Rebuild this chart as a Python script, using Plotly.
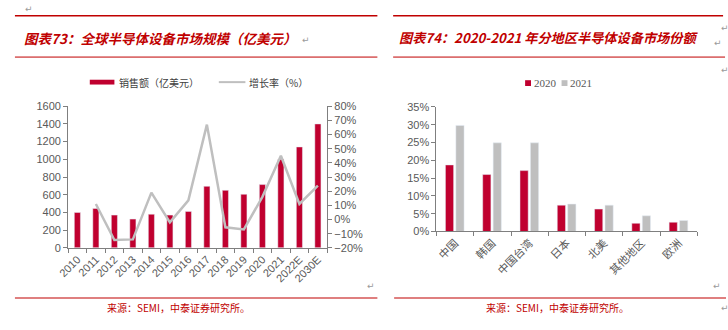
import plotly.graph_objects as go

# ---------------- data ----------------
years = ["2010", "2011", "2012", "2013", "2014", "2015", "2016", "2017",
         "2018", "2019", "2020", "2021", "2022E", "2030E"]
sales = [400, 445, 370, 325, 380, 370, 412, 695, 650, 605, 715, 1000, 1140, 1400]
growth = [None, 11, -14.5, -14, 19, -2, 13.5, 67, -5.5, -7, 16, 45, 11, 24]

regions = ["中国", "韩国", "中国台湾", "日本", "北美", "其他地区", "欧洲"]
share2020 = [18.7, 16.0, 17.1, 7.4, 6.3, 2.3, 2.6]
share2021 = [29.8, 24.9, 24.9, 7.7, 7.4, 4.4, 3.1]

W, H = 728, 330
RED = "#C0002F"
LINE_RED = "#C00000"
GRAY = "#BFBFBF"
AX = "#7F7F7F"
TXT = "#595959"
CJK = "Noto Sans CJK SC"
LAT = "Liberation Sans, Arial"

yr_pos = list(range(len(years)))
rg_pos = list(range(len(regions)))


def px(x):
    return x / W


def py(y):
    return 1 - y / H


fig = go.Figure()

fig.add_trace(go.Bar(x=yr_pos, y=sales, marker_color=RED, width=0.33,
                     xaxis="x", yaxis="y", showlegend=False, name="销售额（亿美元）"))
fig.add_trace(go.Scatter(x=yr_pos, y=growth, mode="lines", line=dict(color=GRAY, width=2.5),
                         xaxis="x", yaxis="y2", showlegend=False, name="增长率（%）"))
fig.add_trace(go.Bar(x=rg_pos, y=share2020, marker_color=RED, width=0.22, offset=-0.26,
                     xaxis="x2", yaxis="y3", showlegend=False, name="2020"))
fig.add_trace(go.Bar(x=rg_pos, y=share2021, marker_color=GRAY, width=0.22, offset=0.02,
                     xaxis="x2", yaxis="y3", showlegend=False, name="2021"))

tickfont = dict(family=LAT, size=11, color=TXT)
cjktick = dict(family=CJK, size=11, color=TXT)

common_x = dict(showgrid=False, zeroline=False, showline=True, linecolor=AX, linewidth=1,
                ticks="", tickangle=-45, type="linear", fixedrange=True,
                minor=dict(ticks="outside", ticklen=4, tickcolor=AX, tick0=0.5, dtick=1,
                           showgrid=False))
common_y = dict(showgrid=False, zeroline=False, showline=True, linecolor=AX, linewidth=1,
                ticks="outside", ticklen=4, tickcolor=AX, tickfont=tickfont, fixedrange=True)

fig.update_layout(
    width=W, height=H,
    margin=dict(l=0, r=0, t=0, b=0),
    paper_bgcolor="white", plot_bgcolor="white",
    barmode="overlay",
    xaxis=dict(common_x, domain=[px(58), px(321)], anchor="y", tickfont=tickfont,
               range=[-0.5, len(years) - 0.5], tickvals=yr_pos, ticktext=years),
    yaxis=dict(common_y, domain=[py(251), py(104)], anchor="x", range=[0, 1600], dtick=200),
    yaxis2=dict(common_y, overlaying="y", side="right", anchor="x", range=[-20, 80], dtick=10,
                ticksuffix="%"),
    xaxis2=dict(common_x, domain=[px(432), px(697)], anchor="y3", tickfont=cjktick,
                range=[-0.5, len(regions) - 0.5], tickvals=rg_pos, ticktext=regions),
    yaxis3=dict(common_y, domain=[py(234), py(104.7)], anchor="x2", range=[0, 35], dtick=5,
                ticksuffix="%"),
)

shapes = []
annots = []


def hline(x0, x1, y, w=1.3, color=LINE_RED):
    shapes.append(dict(type="line", xref="paper", yref="paper", x0=px(x0), x1=px(x1),
                       y0=py(y), y1=py(y), line=dict(color=color, width=w)))


def text(x, y, s, size=10, color=TXT, family=CJK, xanchor="left", **kw):
    annots.append(dict(xref="paper", yref="paper", x=px(x), y=py(y), text=s, showarrow=False,
                       xanchor=xanchor, yanchor="middle",
                       font=dict(family=family, size=size, color=color), **kw))


# Document frame lines
hline(4, 372, 10, 1.5)
hline(388, 723, 10, 1.5)
hline(4, 372, 53, 1)
hline(388, 725, 53, 1)
hline(4, 372, 303, 1.2)
hline(389, 726, 303, 1.2)

# Titles
text(11, 33, "<b><i>图表73：全球半导体设备市场规模（亿美元）</i></b>", size=13.5, color=LINE_RED)
text(392, 33, "<b><i>图表74：2020-2021 年分地区半导体设备市场份额</i></b>", size=13.2, color=LINE_RED)

# Left legend
shapes.append(dict(type="rect", xref="paper", yref="paper", x0=px(80), x1=px(105),
                   y0=py(81.5), y1=py(76.5), fillcolor=RED, line=dict(width=0)))
text(108, 79, "销售额（亿美元）", size=10, color="#404040")
shapes.append(dict(type="line", xref="paper", yref="paper", x0=px(211), x1=px(238),
                   y0=py(79), y1=py(79), line=dict(color=GRAY, width=2)))
text(240, 79, "增长率（%）", size=10, color="#404040")

# Right legend
shapes.append(dict(type="rect", xref="paper", yref="paper", x0=px(522), x1=px(528),
                   y0=py(83), y1=py(77), fillcolor=RED, line=dict(width=0)))
text(529, 80, "2020", size=11, color=TXT, family="Liberation Serif")
shapes.append(dict(type="rect", xref="paper", yref="paper", x0=px(559), x1=px(565),
                   y0=py(83), y1=py(77), fillcolor=GRAY, line=dict(width=0)))
text(566, 80, "2021", size=11, color=TXT, family="Liberation Serif")

# Sources
text(95, 313, "来源：SEMI，中泰证券研究所。", size=10, color=LINE_RED)
text(480, 313, "来源：SEMI，中泰证券研究所。", size=10, color=LINE_RED)

# Paragraph marks
for (x, y) in [(300, 35), (718, 38), (366, 291), (717, 291), (18, 3), (725, 23), (725, 66), (725, 313)]:
    text(x, y, "↵", size=9, color="#9A9A9A", family="DejaVu Sans", xanchor="center")

fig.update_layout(shapes=shapes, annotations=annots)

fig.write_html("out.html")
